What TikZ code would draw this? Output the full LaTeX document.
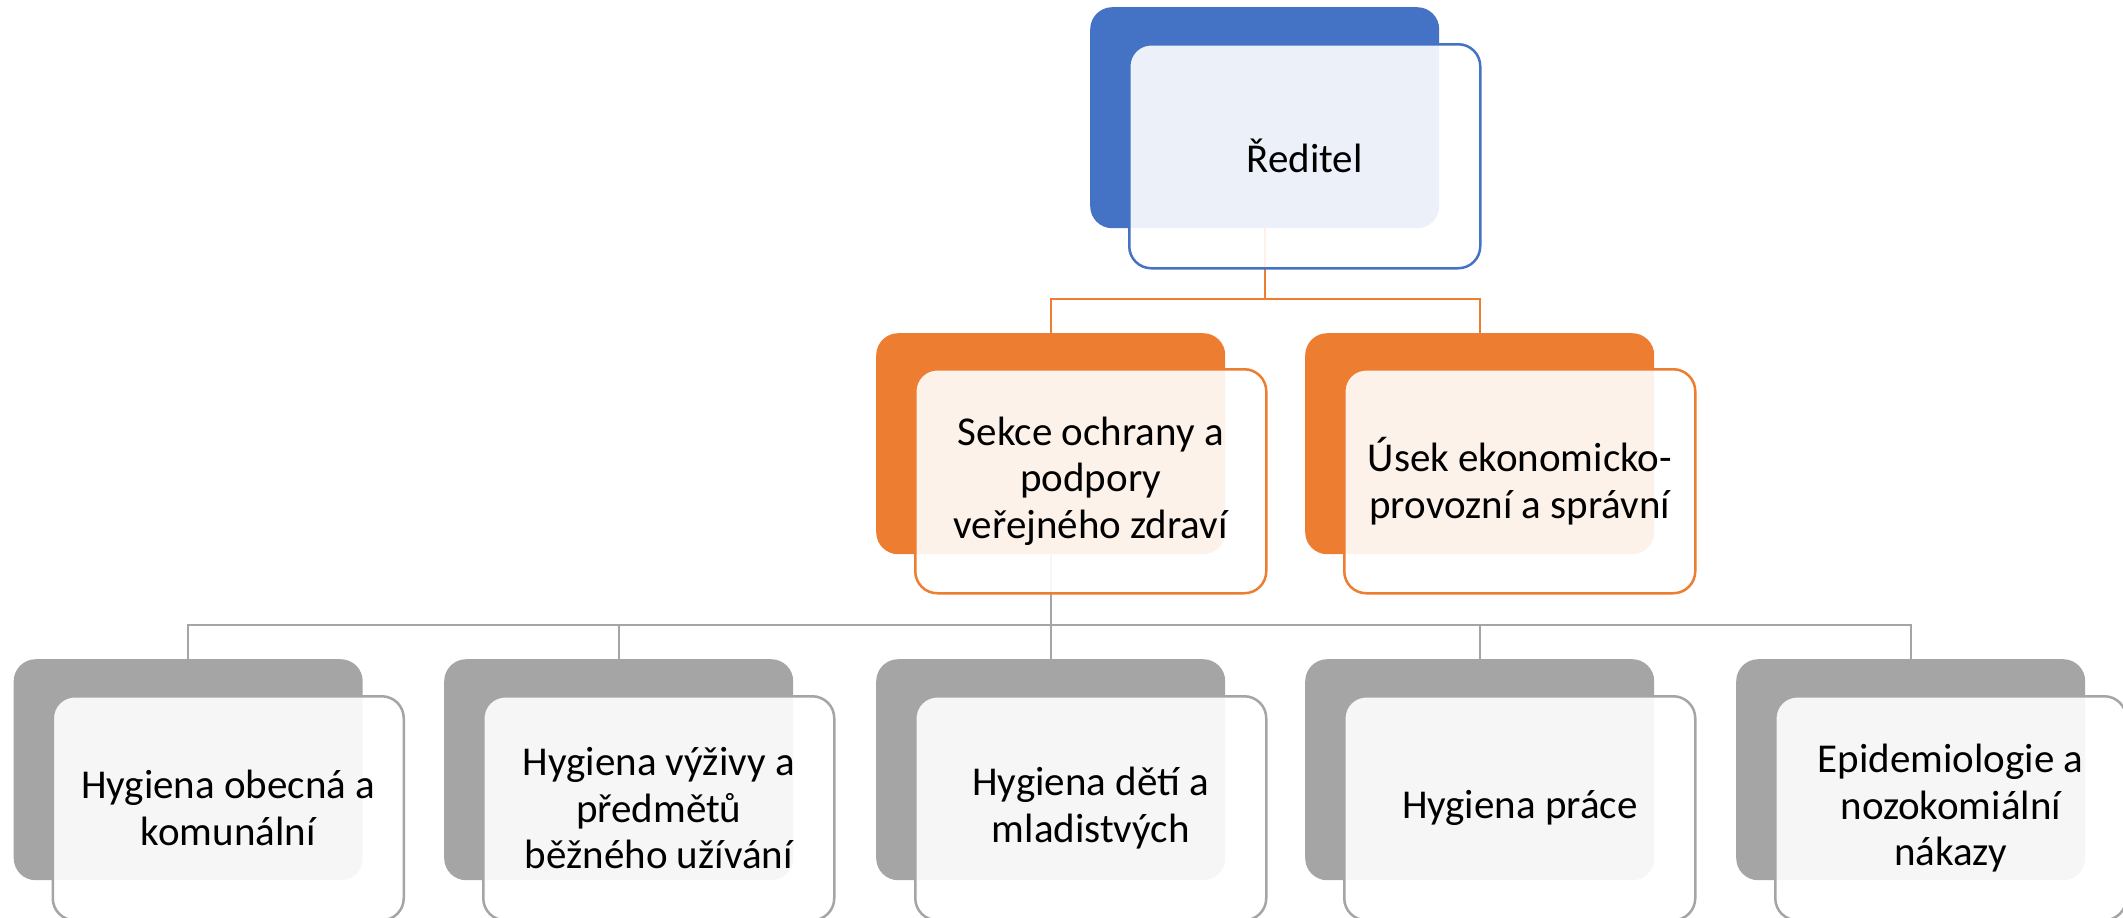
\documentclass[tikz,border=0pt]{standalone}
\usepackage{fontspec}
\setmainfont{Carlito}
\definecolor{cblue}{HTML}{4472C4}
\definecolor{corange}{HTML}{ED7D31}
\definecolor{cgrey}{HTML}{A5A5A5}
\begin{document}
\begin{tikzpicture}[x=1pt,y=-1pt,
  backbox/.style={rounded corners=22pt, minimum width=349pt, minimum height=221pt,
    inner sep=0pt, anchor=north west, draw=none},
  frontbox/.style={rounded corners=22pt, minimum width=351pt, minimum height=224pt,
    inner sep=0pt, anchor=north west, fill=white, fill opacity=0.9, text opacity=1,
    line width=2.5pt, align=center, font=\fontsize{41}{46.7}\selectfont},
  oline/.style={draw=corange, line width=2.2pt},
  gline/.style={draw=cgrey, line width=2.2pt}]
\useasboundingbox (0,0) rectangle (2123,918);
% junction coordinates
\coordinate (j0) at (0,299);
\coordinate (j1) at (0,625);
% back boxes
\node[backbox, fill=cblue]   (b0) at (1090,7) {};
\node[backbox, fill=corange] (b1) at (876,333) {};
\node[backbox, fill=corange] (b2) at (1305,333) {};
\node[backbox, fill=cgrey] (c1) at (13.5,659) {};
\node[backbox, fill=cgrey] (c2) at (444,659) {};
\node[backbox, fill=cgrey] (c3) at (876,659) {};
\node[backbox, fill=cgrey] (c4) at (1305,659) {};
\node[backbox, fill=cgrey] (c5) at (1736,659) {};
% connectors
\draw[oline] (b0.south) -- (b0.south |- j0);
\draw[oline] (b1.north) |- (j0 -| b0.south) -| (b2.north);
\draw[gline] (b1.south) -- (b1.south |- j1);
\draw[gline] (c1.north) |- (j1 -| c5.north) -- (c5.north);
\draw[gline] (c2.north) -- (c2.north |- j1);
\draw[gline] (c3.north) -- (c3.north |- j1);
\draw[gline] (c4.north) -- (c4.north |- j1);
% front boxes
\node[frontbox, draw=cblue] (f0) at (1128,43) {Ředitel};
\node[frontbox, draw=corange] (f1) at (914,368) {Sekce ochrany a\\podpory\\veřejného zdraví};
\node[frontbox, draw=corange] (f2) at (1343,368) {Úsek ekonomicko-\\provozní a správní};
\node[frontbox, draw=cgrey] (g1) at (51.5,695) {Hygiena obecná a\\komunální};
\node[frontbox, draw=cgrey] (g2) at (482,695) {Hygiena výživy a\\předmětů\\běžného užívání};
\node[frontbox, draw=cgrey] (g3) at (914,695) {Hygiena dětí a\\mladistvých};
\node[frontbox, draw=cgrey] (g4) at (1343,695) {Hygiena práce};
\node[frontbox, draw=cgrey] (g5) at (1774,695) {Epidemiologie a\\nozokomiální\\nákazy};
\end{tikzpicture}
\end{document}
